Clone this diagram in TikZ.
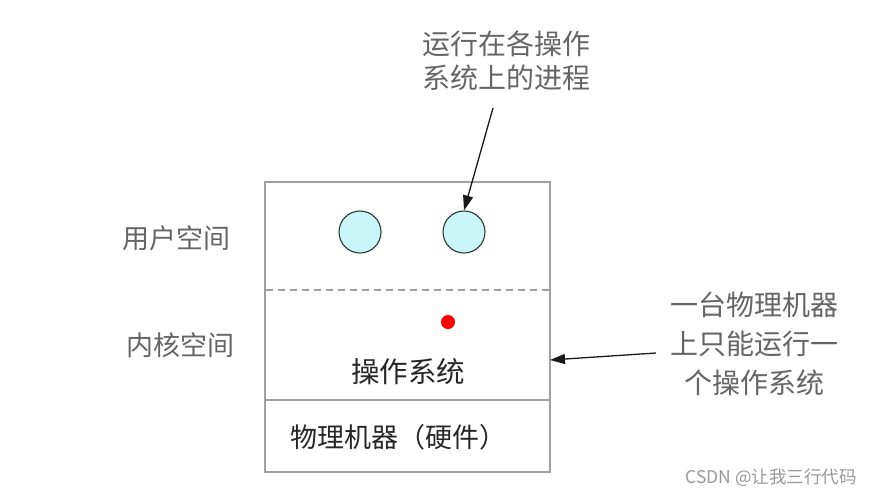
\documentclass[tikz,border=0pt]{standalone}
\usepackage{fontspec}
\newfontfamily\cjk{Noto Sans CJK SC}
\usetikzlibrary{arrows.meta}
\definecolor{boxgray}{HTML}{A0A0A0}
\definecolor{labgray}{HTML}{656565}
\definecolor{cyanfill}{HTML}{C9F7F7}
\tikzset{
  every node/.style={font=\cjk\fontsize{27}{32}\selectfont},
  lab/.style={text=labgray, align=center},
  intext/.style={text=black!85},
  proc/.style={circle, draw=black!80, fill=cyanfill, line width=1.1pt, minimum size=42pt, inner sep=0pt},
  ptr/.style={-{Triangle[length=15pt,width=10pt]}, line width=1.3pt, black!90},
}
\begin{document}
\begin{tikzpicture}[x=1pt,y=-1pt]
\useasboundingbox (0,0) rectangle (883,496);
% box
\draw[boxgray, line width=1.3pt] (265,182) rectangle (550,472);
\draw[boxgray, line width=1.3pt] (265,400) -- (550,400);
\draw[boxgray, line width=1.3pt, dash pattern=on 7pt off 5pt] (266,290) -- (549,290);
\coordinate (boxright) at (550,360);
% processes
\node[proc] (p1) at (360,232) {};
\node[proc] (p2) at (464,232) {};
\fill[red] (448,322) circle (7pt);
% texts in box
\node[intext, font=\cjk\fontsize{28.5}{32}\selectfont] (os) at (408,372) {操作系统};
\node[intext] (hw) at (398,437) {物理机器（硬件）};
% side labels
\node[lab] (user) at (176,238) {用户空间};
\node[lab] (kern) at (180,345) {内核空间};
% annotations
\node[lab, font=\cjk\fontsize{28}{34}\selectfont] (top) at (506,61) {运行在各操作\\系统上的进程};
\node[lab, font=\cjk\fontsize{28}{39}\selectfont] (right) at (754,344) {一台物理机器\\上只能运行一\\个操作系统};
\coordinate (topstart) at (493,108);
\coordinate (rightstart) at (656,353);
\draw[ptr] (topstart) -- (p2.north);
\draw[ptr] (rightstart) -- (boxright);
% watermark
\node[text=black!40, font=\cjk\fontsize{17.5}{20}\selectfont] (wm) at (771,478) {CSDN @让我三行代码};
\end{tikzpicture}
\end{document}
